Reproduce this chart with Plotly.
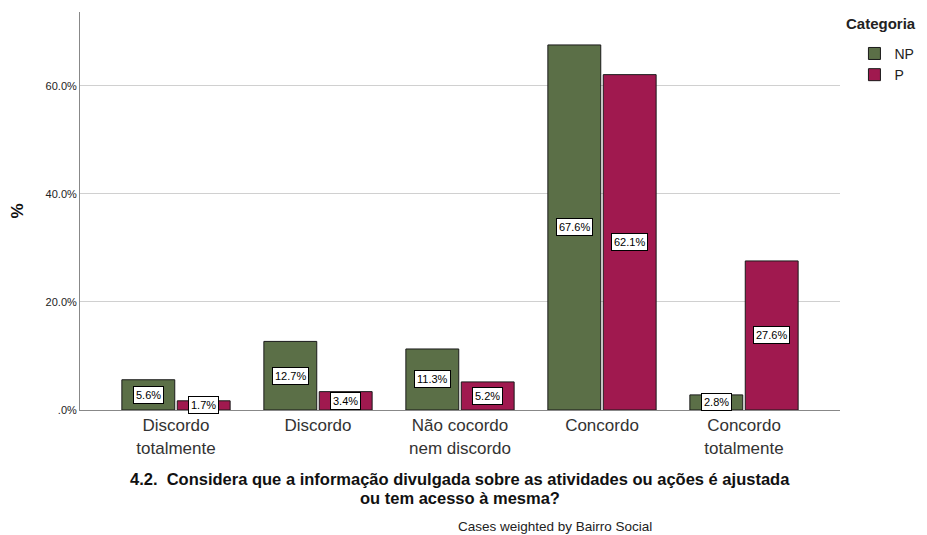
import plotly.graph_objects as go

categories = ["Discordo<br>totalmente", "Discordo", "Não cocordo<br>nem discordo", "Concordo", "Concordo<br>totalmente"]
series_names = ["NP", "P"]
np_values = [5.6, 12.7, 11.3, 67.6, 2.8]
p_values = [1.7, 3.4, 5.2, 62.1, 27.6]
colors = {"NP": "#5b6f47", "P": "#a0194f"}
y_tickvals = [0, 20, 40, 60]
y_ticktext = [".0%", "20.0%", "40.0%", "60.0%"]
x_title_lines = [
    "4.2.  Considera que a informação divulgada sobre as atividades ou ações é ajustada",
    "ou tem acesso à mesma?",
]
footnote = "Cases weighted by Bairro Social"

FONT = "Liberation Sans, Arial, sans-serif"
bargap = 0.22
bargroupgap = 0.045

fig = go.Figure()
for name, vals in zip(series_names, [np_values, p_values]):
    fig.add_trace(go.Bar(
        x=categories, y=vals, name=name,
        marker=dict(color=colors[name], line=dict(color="#1a1a1a", width=1)),
    ))

slot = (1 - bargap) / 2
annotations = []
for s, vals in enumerate([np_values, p_values]):
    off = (s - 0.5) * slot
    for i, v in enumerate(vals):
        annotations.append(dict(
            x=i + off, y=v / 2, xref="x", yref="y",
            text=f"{v:.1f}%", showarrow=False,
            font=dict(family=FONT, size=11, color="black"),
            bgcolor="white", bordercolor="black", borderwidth=1, borderpad=2,
        ))

# x axis title (two lines, tight spacing)
for k, (line, ypos) in enumerate(zip(x_title_lines, [-0.174, -0.221])):
    annotations.append(dict(
        x=0.5, y=ypos, xref="paper", yref="paper", xanchor="center", yanchor="middle",
        text=f"<b>{line}</b>", showarrow=False,
        font=dict(family=FONT, size=16.5, color="#111"),
    ))

annotations.append(dict(
    x=0.625, y=-0.292, xref="paper", yref="paper", xanchor="center", yanchor="middle",
    text=footnote, showarrow=False,
    font=dict(family=FONT, size=13.5, color="#222"),
))

# legend title as text
annotations.append(dict(
    x=1.005, y=0.97, xref="paper", yref="paper", xanchor="left", yanchor="middle",
    text="<b>Categoria</b>", showarrow=False,
    font=dict(family=FONT, size=15, color="#222"),
))

fig.update_layout(
    width=919, height=527,
    margin=dict(l=72, r=87, t=4, b=125),
    plot_bgcolor="white", paper_bgcolor="white",
    barmode="group", bargap=bargap, bargroupgap=bargroupgap,
    font=dict(family=FONT, color="#222"),
    annotations=annotations,
    legend=dict(
        x=1.019, y=0.935, xanchor="left", yanchor="top",
        font=dict(family=FONT, size=14, color="#222"),
        tracegroupgap=0, itemwidth=30,
    ),
    xaxis=dict(
        range=[-0.676, 4.676],
        showline=True, linecolor="#888", linewidth=1,
        tickfont=dict(family=FONT, size=17, color="#333"),
        ticks="",
    ),
    yaxis=dict(
        range=[0, 73.7],
        tickvals=y_tickvals, ticktext=y_ticktext,
        showgrid=True, gridcolor="#d0d0d0", gridwidth=1,
        showline=True, linecolor="#888", linewidth=1,
        zeroline=False,
        tickfont=dict(family=FONT, size=11, color="#222"),
        title=dict(text="<b>%</b>", font=dict(family=FONT, size=17, color="#111"), standoff=18),
    ),
)

fig.write_html("out.html")
